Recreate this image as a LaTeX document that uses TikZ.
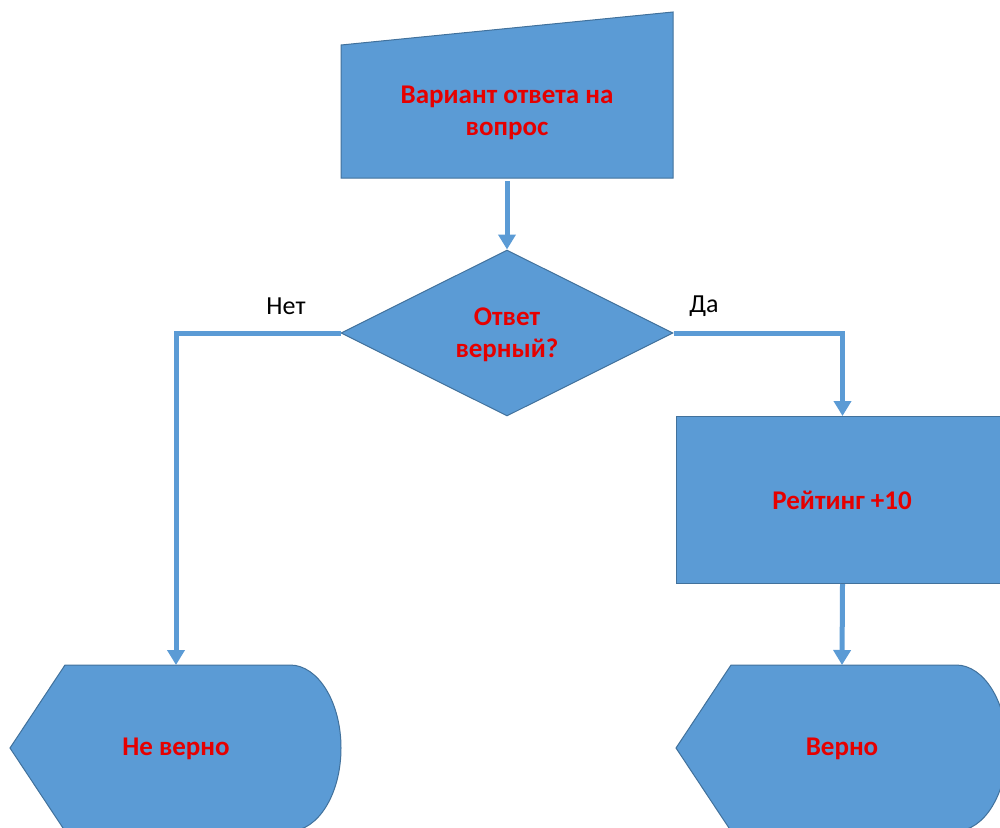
\documentclass[tikz,border=0pt]{standalone}
\usepackage{fontspec}
\setmainfont{Carlito}
\usetikzlibrary{shapes.geometric,arrows.meta,calc}
\definecolor{shapefill}{RGB}{91,155,213}
\definecolor{shapeline}{RGB}{65,113,156}
\definecolor{txtred}{RGB}{230,0,0}
\tikzset{
  blk/.style={fill=shapefill,draw=shapeline,line width=1pt},
  lbl/.style={text=txtred,font=\fontsize{27}{32}\selectfont\bfseries,align=center,inner sep=0pt},
  side/.style={text=black,font=\fontsize{26}{30}\selectfont,inner sep=0pt},
  conn/.style={draw=shapefill,line width=5pt,-{Triangle[width=17pt,length=15pt]}}
}
\begin{document}
\begin{tikzpicture}[x=1pt,y=-1pt]
\useasboundingbox (0,0) rectangle (1000,827);
\clip (0,0) rectangle (1000,827);
% manual input
\draw[blk] (341,45) -- (673,12) -- (673,178) -- (341,178) -- cycle;
\coordinate (inbot) at (507,181);
\node[lbl] (intext) at (507,113) {Вариант ответа на\\вопрос};
% decision
\node[blk,diamond,minimum width=332pt,minimum height=166pt,inner sep=0pt] (dec) at (507,333) {};
\node[lbl] (dectext) at (507,335) {Ответ\\верный?};
% rating box
\node[blk,rectangle,minimum width=332pt,minimum height=167pt,inner sep=0pt,anchor=north west] (rate) at (676,416) {};
\node[lbl] (ratetext) at (842,500) {Рейтинг +10};
% display shapes
\draw[blk] (10,748) -- (65,665) -- (290,665) .. controls (318,665) and (341,702) .. (341,748)
  .. controls (341,794) and (318,831) .. (290,831) -- (65,831) -- cycle;
\coordinate (nottop) at (176,665);
\node[lbl] (nottext) at (176,749) {Не верно};
\draw[blk] (676,748) -- (731,665) -- (956,665) .. controls (984,665) and (1007,702) .. (1007,748)
  .. controls (1007,794) and (984,831) .. (956,831) -- (731,831) -- cycle;
\coordinate (oktop) at (842,665);
\node[lbl] (oktext) at (842,749) {Верно};
% connectors
\draw[conn] (inbot) -- (dec.north);
\draw[conn] (dec.west) -| (nottop);
\draw[conn] (dec.east) -| (rate.north);
\draw[conn] (rate.south) -- (oktop);
% branch labels
\node[side] (no) at (286,306) {Нет};
\node[side] (yes) at (704,306) {Да};
\end{tikzpicture}
\end{document}
